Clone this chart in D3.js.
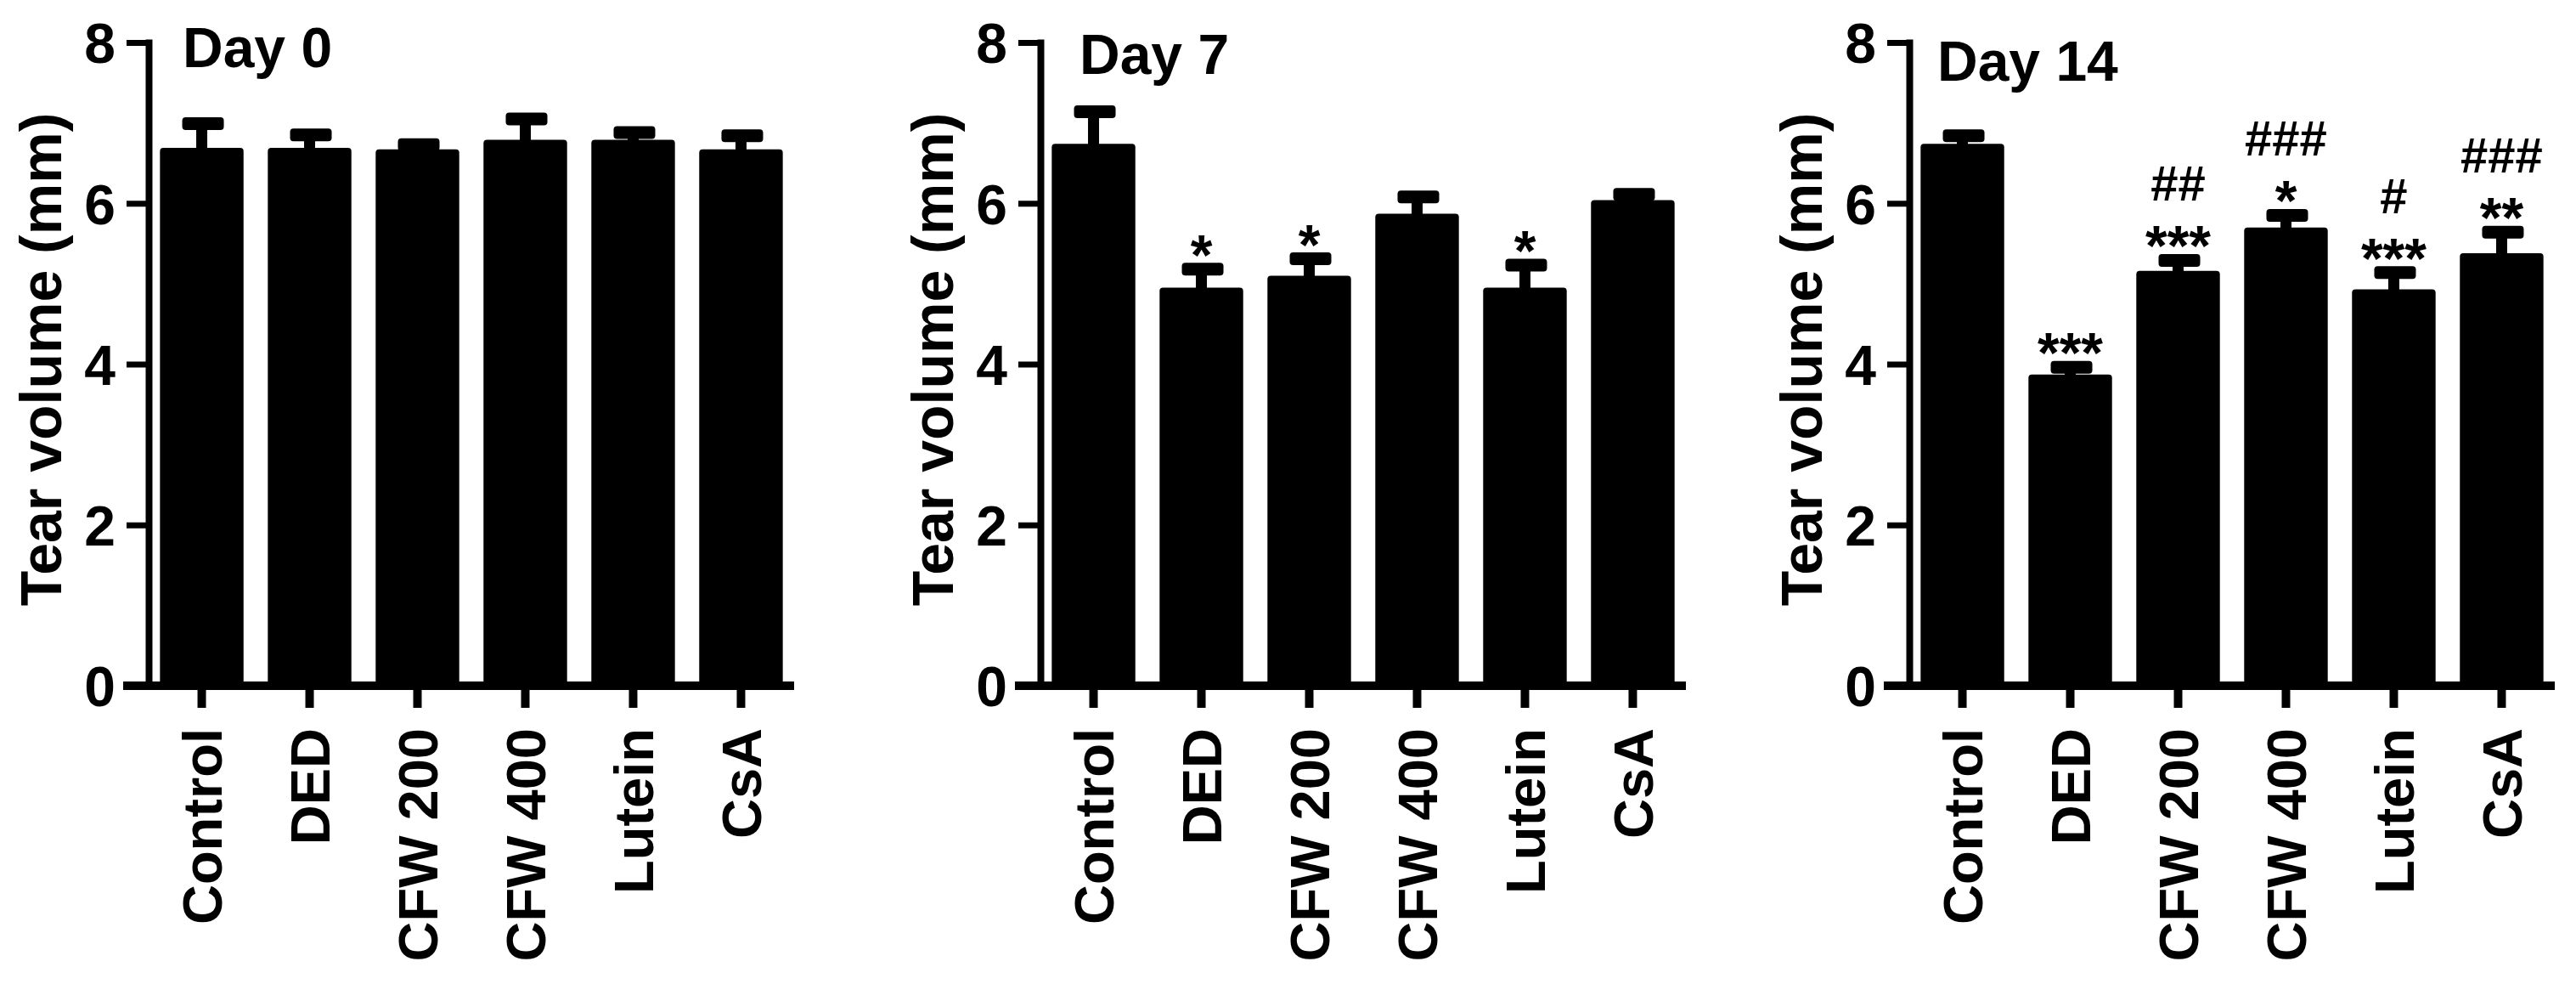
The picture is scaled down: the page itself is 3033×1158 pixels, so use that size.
<!DOCTYPE html>
<html>
<head>
<meta charset="utf-8">
<script src="https://cdn.jsdelivr.net/npm/d3@7/dist/d3.min.js"></script>
<style>
  html, body { margin: 0; padding: 0; background: #fff; }
  svg { display: block; font-family: "Liberation Sans", Arial, sans-serif; font-weight: bold; }
</style>
</head>
<body>
<svg id="chart" width="3033" height="1158"></svg>
<script>
'use strict';

// groups on the x axis
let groups = ['Control', 'DED', 'CFW 200', 'CFW 400', 'Lutein', 'CsA'];
let days = ['Day 0', 'Day 7', 'Day 14'];
let yTicks = [0, 2, 4, 6, 8];

// mean tear volume (mm) and SEM
let day0Mean = [6.69, 6.69, 6.67, 6.79, 6.79, 6.67];
let day0Sem = [0.30, 0.16, 0.06, 0.26, 0.09, 0.17];
let day7Mean = [6.74, 4.95, 5.10, 5.87, 4.95, 6.04];
let day7Sem = [0.40, 0.23, 0.21, 0.21, 0.28, 0.07];
let day14Mean = [6.74, 3.87, 5.16, 5.70, 4.93, 5.38];
let day14Sem = [0.10, 0.09, 0.13, 0.15, 0.21, 0.26];

// significance marks (vs control: *, vs DED: #)
let day0Stars = ['', '', '', '', '', ''];
let day0Hash = ['', '', '', '', '', ''];
let day7Stars = ['', '*', '*', '', '*', ''];
let day7Hash = ['', '', '', '', '', ''];
let day14Stars = ['', '***', '***', '*', '***', '**'];
let day14Hash = ['', '', '##', '###', '#', '###'];

let means = [day0Mean, day7Mean, day14Mean];
let sems = [day0Sem, day7Sem, day14Sem];
let stars = [day0Stars, day7Stars, day14Stars];
let hashes = [day0Hash, day7Hash, day14Hash];

// layout
let axisX = [175, 1225, 2248];
let titleDx = [40, 46, 33];
let titleY = [79, 87, 95];
let plotLen = 760;
let y0 = 807;
let yTop = 50;

let svg = d3.select('#chart');
svg.append('rect').attr('width', 3033).attr('height', 1158).attr('fill', '#fff');

let y = d3.scaleLinear().domain([0, 8]).range([y0, yTop]);

for (let p = 0; p < 3; ++p) {
    let g = svg.append('g').attr('transform', 'translate(' + axisX[p] + ',0)');
    let x = d3.scaleBand()
        .domain(groups)
        .range([0, plotLen])
        .paddingInner(0.225)
        .paddingOuter(0.105);
    let rows = groups.map((name, i) => ({
        name: name, mean: means[p][i], sem: sems[p][i],
        star: stars[p][i], hash: hashes[p][i]
    }));

    // bars
    g.selectAll('rect.bar').data(rows).enter().append('rect')
        .attr('class', 'bar')
        .attr('x', d => x(d.name))
        .attr('y', d => y(d.mean))
        .attr('width', x.bandwidth())
        .attr('height', d => y(0) - y(d.mean))
        .attr('rx', 4)
        .attr('fill', '#000');

    // error bars (upper only)
    g.selectAll('rect.stem').data(rows).enter().append('rect')
        .attr('class', 'stem')
        .attr('x', d => x(d.name) + x.bandwidth() / 2 - 6.5)
        .attr('y', d => y(d.mean + d.sem))
        .attr('width', 13)
        .attr('height', d => y(d.mean) - y(d.mean + d.sem) + 2)
        .attr('fill', '#000');
    g.selectAll('rect.cap').data(rows).enter().append('rect')
        .attr('class', 'cap')
        .attr('x', d => x(d.name) + x.bandwidth() / 2 - 23)
        .attr('y', d => y(d.mean + d.sem) - 7.5)
        .attr('width', 49)
        .attr('height', 15)
        .attr('rx', 4)
        .attr('fill', '#000');

    // significance marks
    g.selectAll('text.star').data(rows).enter().append('text')
        .attr('class', 'star')
        .attr('x', d => x(d.name) + x.bandwidth() / 2)
        .attr('y', d => y(d.mean + d.sem) + 6)
        .attr('text-anchor', 'middle')
        .attr('font-size', 66)
        .text(d => d.star);
    g.selectAll('text.hash').data(rows).enter().append('text')
        .attr('class', 'hash')
        .attr('x', d => x(d.name) + x.bandwidth() / 2)
        .attr('y', d => y(d.mean + d.sem) - 70)
        .attr('text-anchor', 'middle')
        .attr('font-size', 58)
        .text(d => d.hash);

    // y axis
    let ya = g.append('g').call(d3.axisLeft(y)
        .tickValues(yTicks)
        .tickFormat(d3.format('d'))
        .tickSize(26)
        .tickSizeOuter(0)
        .tickPadding(13));
    ya.select('.domain').attr('stroke-width', 8).attr('stroke-linecap', 'square');
    ya.selectAll('.tick line').attr('stroke-width', 7);
    ya.selectAll('.tick text')
        .attr('font-size', 66)
        .attr('dy', '0.36em');
    ya.attr('font-family', null).attr('font-size', null);

    // x axis
    let xa = g.append('g')
        .attr('transform', 'translate(0,' + y0 + ')')
        .call(d3.axisBottom(x).tickSize(26).tickSizeOuter(0));
    xa.select('.domain').remove();
    xa.append('line')
        .attr('x1', -30).attr('x2', plotLen)
        .attr('stroke', '#000').attr('stroke-width', 10);
    xa.selectAll('.tick line').attr('stroke-width', 10);
    xa.selectAll('.tick text')
        .attr('transform', 'rotate(-90)')
        .attr('x', -50)
        .attr('y', 0)
        .attr('dy', '0.36em')
        .attr('text-anchor', 'end')
        .attr('font-size', 65);
    xa.attr('font-family', null).attr('font-size', null);

    // y axis title
    g.append('text')
        .attr('transform', 'translate(' + (-103) + ',423) rotate(-90)')
        .attr('text-anchor', 'middle')
        .attr('font-size', 68)
        .text('Tear volume (mm)');

    // panel title
    g.append('text')
        .attr('x', titleDx[p])
        .attr('y', titleY[p])
        .attr('font-size', 66)
        .text(days[p]);
}
</script>
</body>
</html>
